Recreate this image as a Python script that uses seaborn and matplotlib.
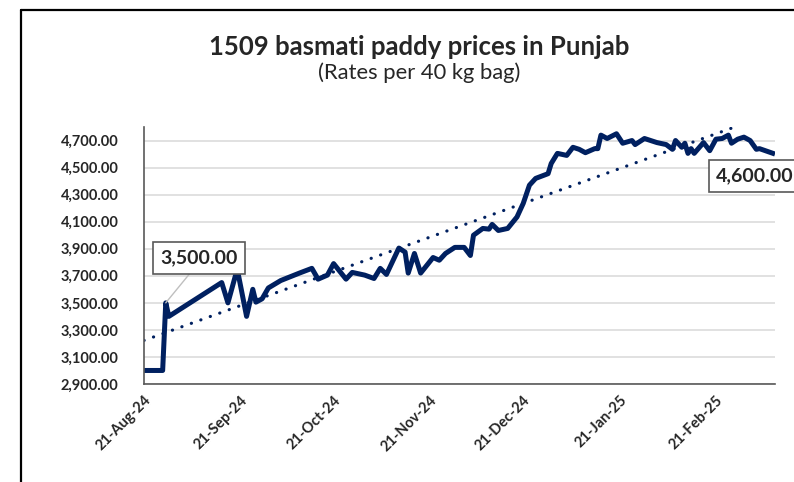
import matplotlib
matplotlib.use("Agg")
import matplotlib.pyplot as plt
import matplotlib.dates as mdates
import matplotlib.ticker as mticker
import seaborn as sns
import numpy as np
import pandas as pd

# ---- data ----
dates = [
    "2024-08-21", "2024-08-27", "2024-08-28", "2024-08-29", "2024-09-15", "2024-09-17",
    "2024-09-20", "2024-09-23", "2024-09-25", "2024-09-26", "2024-09-28", "2024-09-30",
    "2024-10-04", "2024-10-10", "2024-10-14", "2024-10-16", "2024-10-19", "2024-10-21",
    "2024-10-25", "2024-10-27", "2024-10-31", "2024-11-03", "2024-11-05", "2024-11-07",
    "2024-11-11", "2024-11-13", "2024-11-14", "2024-11-16", "2024-11-18", "2024-11-22",
    "2024-11-24", "2024-11-26", "2024-11-29", "2024-12-02", "2024-12-04", "2024-12-05",
    "2024-12-08", "2024-12-10", "2024-12-11", "2024-12-13", "2024-12-16", "2024-12-19",
    "2024-12-21", "2024-12-23", "2024-12-25", "2024-12-29", "2024-12-30", "2025-01-01",
    "2025-01-04", "2025-01-06", "2025-01-08", "2025-01-10", "2025-01-13", "2025-01-14",
    "2025-01-15", "2025-01-17", "2025-01-20", "2025-01-22", "2025-01-25", "2025-01-26",
    "2025-01-29", "2025-02-02", "2025-02-05", "2025-02-07", "2025-02-08", "2025-02-10",
    "2025-02-11", "2025-02-12", "2025-02-13", "2025-02-14", "2025-02-17", "2025-02-19",
    "2025-02-21", "2025-02-23", "2025-02-25", "2025-02-26", "2025-02-28", "2025-03-02",
    "2025-03-04", "2025-03-06", "2025-03-07", "2025-03-12",
]
prices = [
    3000, 3000, 3500, 3400, 3650, 3500,
    3750, 3400, 3600, 3505, 3530, 3610,
    3665, 3720, 3755, 3675, 3705, 3790,
    3675, 3725, 3705, 3680, 3755, 3710,
    3905, 3875, 3720, 3865, 3720, 3835,
    3815, 3865, 3910, 3910, 3850, 4000,
    4050, 4045, 4080, 4035, 4050, 4135,
    4235, 4370, 4420, 4455, 4530, 4605,
    4590, 4650, 4635, 4610, 4640, 4640,
    4740, 4715, 4750, 4680, 4700, 4670,
    4715, 4685, 4670, 4635, 4700, 4650,
    4680, 4605, 4640, 4605, 4685, 4625,
    4710, 4715, 4740, 4680, 4710, 4725,
    4700, 4635, 4640, 4600,
]
xtick_dates = ["2024-08-21", "2024-09-21", "2024-10-21", "2024-11-21",
               "2024-12-21", "2025-01-21", "2025-02-21"]
ytick_values = [2900, 3100, 3300, 3500, 3700, 3900, 4100, 4300, 4500, 4700]
title = "1509 basmati paddy prices in Punjab"
subtitle = "(Rates per 40 kg bag)"
label_first = "3,500.00"
label_last = "4,600.00"

# ---- styling ----
NAVY = "#002060"
sns.set_style("white")
plt.rcParams["font.family"] = ["Lato", "DejaVu Sans"]

df = pd.DataFrame({"date": pd.to_datetime(dates), "price": prices})

fig = plt.figure(figsize=(7.94, 4.82), dpi=100)
ax = fig.add_axes([144 / 794, 1 - 384 / 482, (775 - 144) / 794, (384 - 127) / 482])

# grid
ax.set_axisbelow(True)
ax.yaxis.grid(True, color="#d9d9d9", lw=1.1)
ax.xaxis.grid(False)

# main series
sns.lineplot(data=df, x="date", y="price", ax=ax, color=NAVY, lw=3.6,
             solid_joinstyle="round", solid_capstyle="butt", legend=False)

# linear trendline (fit on the data points)
xnum = mdates.date2num(df["date"])
coef = np.polyfit(xnum, df["price"].values, 1)
tr = pd.DataFrame({"date": df["date"], "trend": np.polyval(coef, xnum)})
sns.lineplot(data=tr, x="date", y="trend", ax=ax, color=NAVY, lw=2.3,
             linestyle=(0, (0.05, 3.1)), dash_capstyle="round", legend=False)

ax.set_xlim(df["date"].iloc[0], df["date"].iloc[-1])
ax.set_ylim(2900, 4800)
ax.set_xlabel("")
ax.set_ylabel("")

ax.set_yticks(ytick_values)
ax.yaxis.set_major_formatter(mticker.StrMethodFormatter("{x:,.2f}"))
ax.set_xticks(pd.to_datetime(xtick_dates))
ax.xaxis.set_major_formatter(mdates.DateFormatter("%d-%b-%y"))

for s in ["top", "right"]:
    ax.spines[s].set_visible(False)
for s in ["left", "bottom"]:
    ax.spines[s].set_color("#595959")
    ax.spines[s].set_linewidth(1.2)

ax.tick_params(axis="y", length=0, pad=18.5, labelsize=10.5)
ax.tick_params(axis="x", length=4.5, width=1.2, color="#595959", direction="out",
               pad=2, labelsize=10.5)
for lab in ax.get_yticklabels():
    lab.set_fontweight("bold")
for lab in ax.get_xticklabels():
    lab.set_fontweight("bold")
    lab.set_rotation(45)
    lab.set_ha("right")
    lab.set_va("top")
    lab.set_rotation_mode("anchor")

# data labels
i_first = prices.index(3500)
ax.annotate(label_first, xy=(df["date"].iloc[i_first], prices[i_first]),
            xytext=(33, 45), textcoords="offset pixels",
            ha="center", va="center", fontsize=14, fontweight="bold",
            bbox=dict(boxstyle="square,pad=0.38", fc="white", ec="#595959", lw=1.2),
            arrowprops=dict(arrowstyle="-", color="#bfbfbf", lw=1.0,
                            relpos=(0.46, 0.0), shrinkA=0, shrinkB=0))
ax.annotate(label_last, xy=(df["date"].iloc[-1], prices[-1]),
            xytext=(-20, -22), textcoords="offset pixels",
            ha="center", va="center", fontsize=14, fontweight="bold",
            bbox=dict(boxstyle="square,pad=0.38", fc="white", ec="#595959", lw=1.2),
            annotation_clip=False)

# titles
fig.text(419 / 794, 1 - 55 / 482, title, ha="center", va="baseline",
         fontsize=18.5, fontweight="bold")
fig.text(419 / 794, 1 - 79 / 482, subtitle, ha="center", va="baseline",
         fontsize=15.8)

# chart-area border (left and top edges visible)
fig.add_artist(plt.Line2D([21 / 794, 21 / 794], [-0.1, 1 - 10 / 482],
                          transform=fig.transFigure, color="black", lw=1.6))
fig.add_artist(plt.Line2D([21 / 794, 1.1], [1 - 10 / 482, 1 - 10 / 482],
                          transform=fig.transFigure, color="black", lw=1.6))

fig.savefig("out.png", dpi=100)
